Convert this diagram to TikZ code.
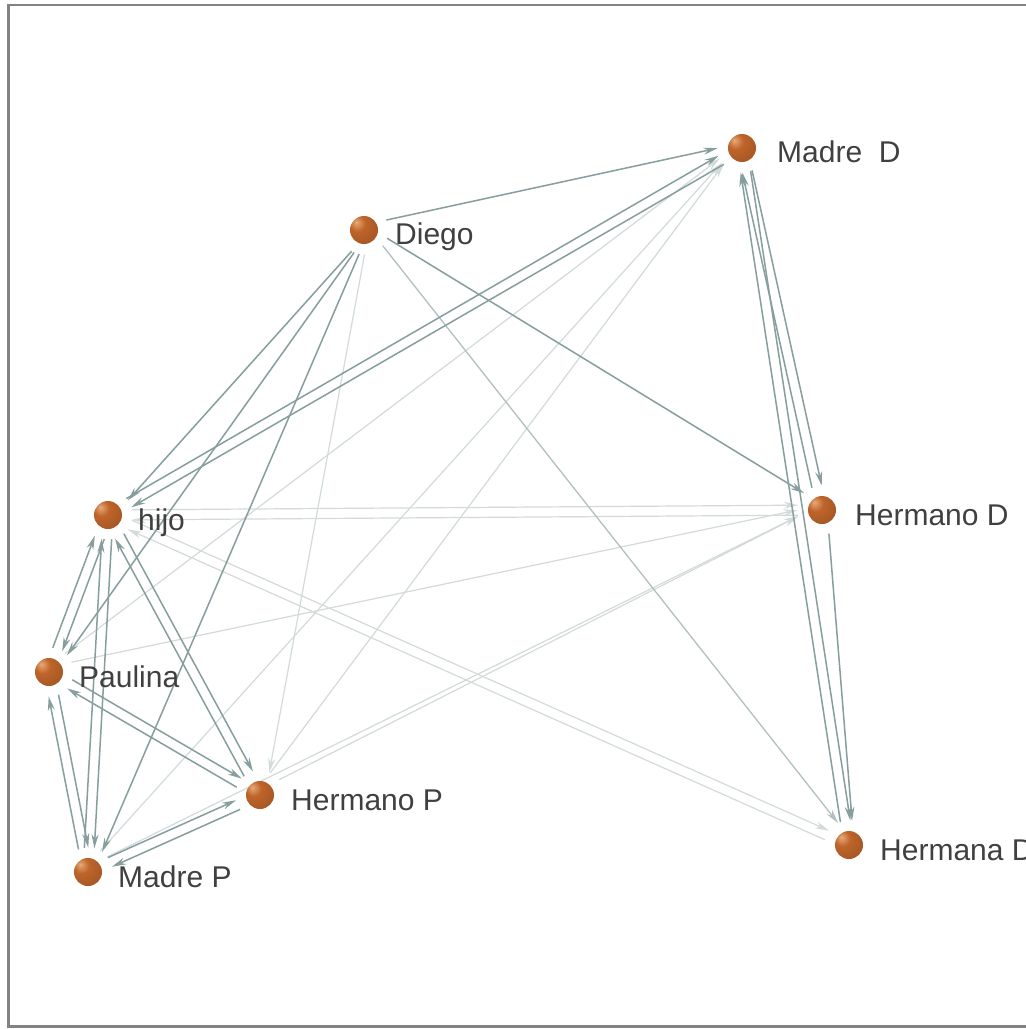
\documentclass[tikz,border=0pt]{standalone}
\usepackage{fontspec}
\setmainfont{Liberation Sans}
\usetikzlibrary{arrows.meta,calc}
\definecolor{dkc}{RGB}{135,158,158}
\definecolor{mdc}{RGB}{178,192,192}
\definecolor{ltc}{RGB}{210,218,218}
\definecolor{txtc}{RGB}{64,64,64}
\definecolor{framec}{RGB}{130,130,130}
\definecolor{ballc}{RGB}{190,100,42}
\definecolor{ballhi}{RGB}{232,170,120}
\definecolor{balldk}{RGB}{120,55,20}
\pgfdeclareradialshading{myball}{\pgfpoint{-14bp}{14bp}}{%
  color(0bp)=(ballhi); color(14bp)=(ballc); color(40bp)=(ballc!85!black);
  color(60bp)=(balldk); color(80bp)=(balldk)}
\newcommand\edg[3]{\draw[#1] ($(#2)!5pt!90:(#3)$) -- ($(#3)!5pt!-90:(#2)$);}
\begin{document}
\begin{tikzpicture}[x=1pt,y=-1pt,
  ball/.style={circle,minimum size=28pt,inner sep=0pt,shading=myball},
  lbl/.style={anchor=base west,text=txtc,font=\fontsize{30}{32}\selectfont,inner sep=0pt},
  dkE/.style={draw=dkc,line width=1.5pt,-{Stealth[length=14pt,width=7pt]},shorten <=24pt,shorten >=24pt},
  mdE/.style={draw=mdc,line width=1.3pt,-{Stealth[length=14pt,width=7pt]},shorten <=24pt,shorten >=24pt},
  ltE/.style={draw=ltc,line width=1.2pt,-{Stealth[length=14pt,width=7pt]},shorten <=24pt,shorten >=24pt}]
\useasboundingbox (0,0) rectangle (1026,1029);
\fill[white] (0,0) rectangle (1026,1029);
\clip (0,0) rectangle (1026,1029);
% frame
\draw[framec,line width=2.2pt] (1030,1026.5) -- (8.5,1026.5) -- (8.5,5) -- (1030,5);
% node coordinates
\coordinate (D) at (364,230);
\coordinate (MD) at (742,148);
\coordinate (H) at (108,515);
\coordinate (HD) at (822,510);
\coordinate (P) at (49,672);
\coordinate (HP) at (260,795);
\coordinate (MP) at (88,872);
\coordinate (HaD) at (849,845);
% light edges
\edg{ltE}{H}{HD}
\edg{ltE}{HD}{H}
\edg{ltE}{H}{HaD}
\edg{ltE}{HaD}{H}
\edg{ltE}{P}{MD}
\edg{ltE}{MP}{MD}
\edg{ltE}{HP}{MD}
\edg{ltE}{P}{HD}
\edg{ltE}{MP}{HD}
\edg{ltE}{HP}{HD}
\edg{ltE}{D}{HP}
% medium
\edg{mdE}{D}{HaD}
% dark edges
\edg{dkE}{D}{MD}
\edg{dkE}{D}{HD}
\edg{dkE}{D}{H}
\edg{dkE}{D}{P}
\edg{dkE}{D}{MP}
\edg{dkE}{MD}{H}
\edg{dkE}{H}{MD}
\edg{dkE}{MD}{HD}
\edg{dkE}{HD}{MD}
\edg{dkE}{MD}{HaD}
\edg{dkE}{HaD}{MD}
\edg{dkE}{HD}{HaD}
\edg{dkE}{H}{P}
\edg{dkE}{P}{H}
\edg{dkE}{H}{MP}
\edg{dkE}{MP}{H}
\edg{dkE}{H}{HP}
\edg{dkE}{HP}{H}
\edg{dkE}{P}{MP}
\edg{dkE}{MP}{P}
\edg{dkE}{P}{HP}
\edg{dkE}{HP}{P}
\edg{dkE}{MP}{HP}
\edg{dkE}{HP}{MP}
% nodes
\node[ball] (nD) at (D) {};
\node[ball] (nMD) at (MD) {};
\node[ball] (nH) at (H) {};
\node[ball] (nHD) at (HD) {};
\node[ball] (nP) at (P) {};
\node[ball] (nHP) at (HP) {};
\node[ball] (nMP) at (MP) {};
\node[ball] (nHaD) at (HaD) {};
% labels
\node[lbl] (lD) at ([xshift=31pt,yshift=-14pt]D) {Diego};
\node[lbl] (lMD) at ([xshift=35pt,yshift=-14pt]MD) {Madre\ \ D};
\node[lbl] (lH) at ([xshift=30pt,yshift=-15pt]H) {hijo};
\node[lbl] (lHD) at ([xshift=33pt,yshift=-15pt]HD) {Hermano D};
\node[lbl] (lP) at ([xshift=30pt,yshift=-15pt]P) {Paulina};
\node[lbl] (lHP) at ([xshift=31pt,yshift=-15pt]HP) {Hermano P};
\node[lbl] (lMP) at ([xshift=30pt,yshift=-15pt]MP) {Madre P};
\node[lbl] (lHaD) at ([xshift=31pt,yshift=-15pt]HaD) {Hermana D};
\end{tikzpicture}
\end{document}
